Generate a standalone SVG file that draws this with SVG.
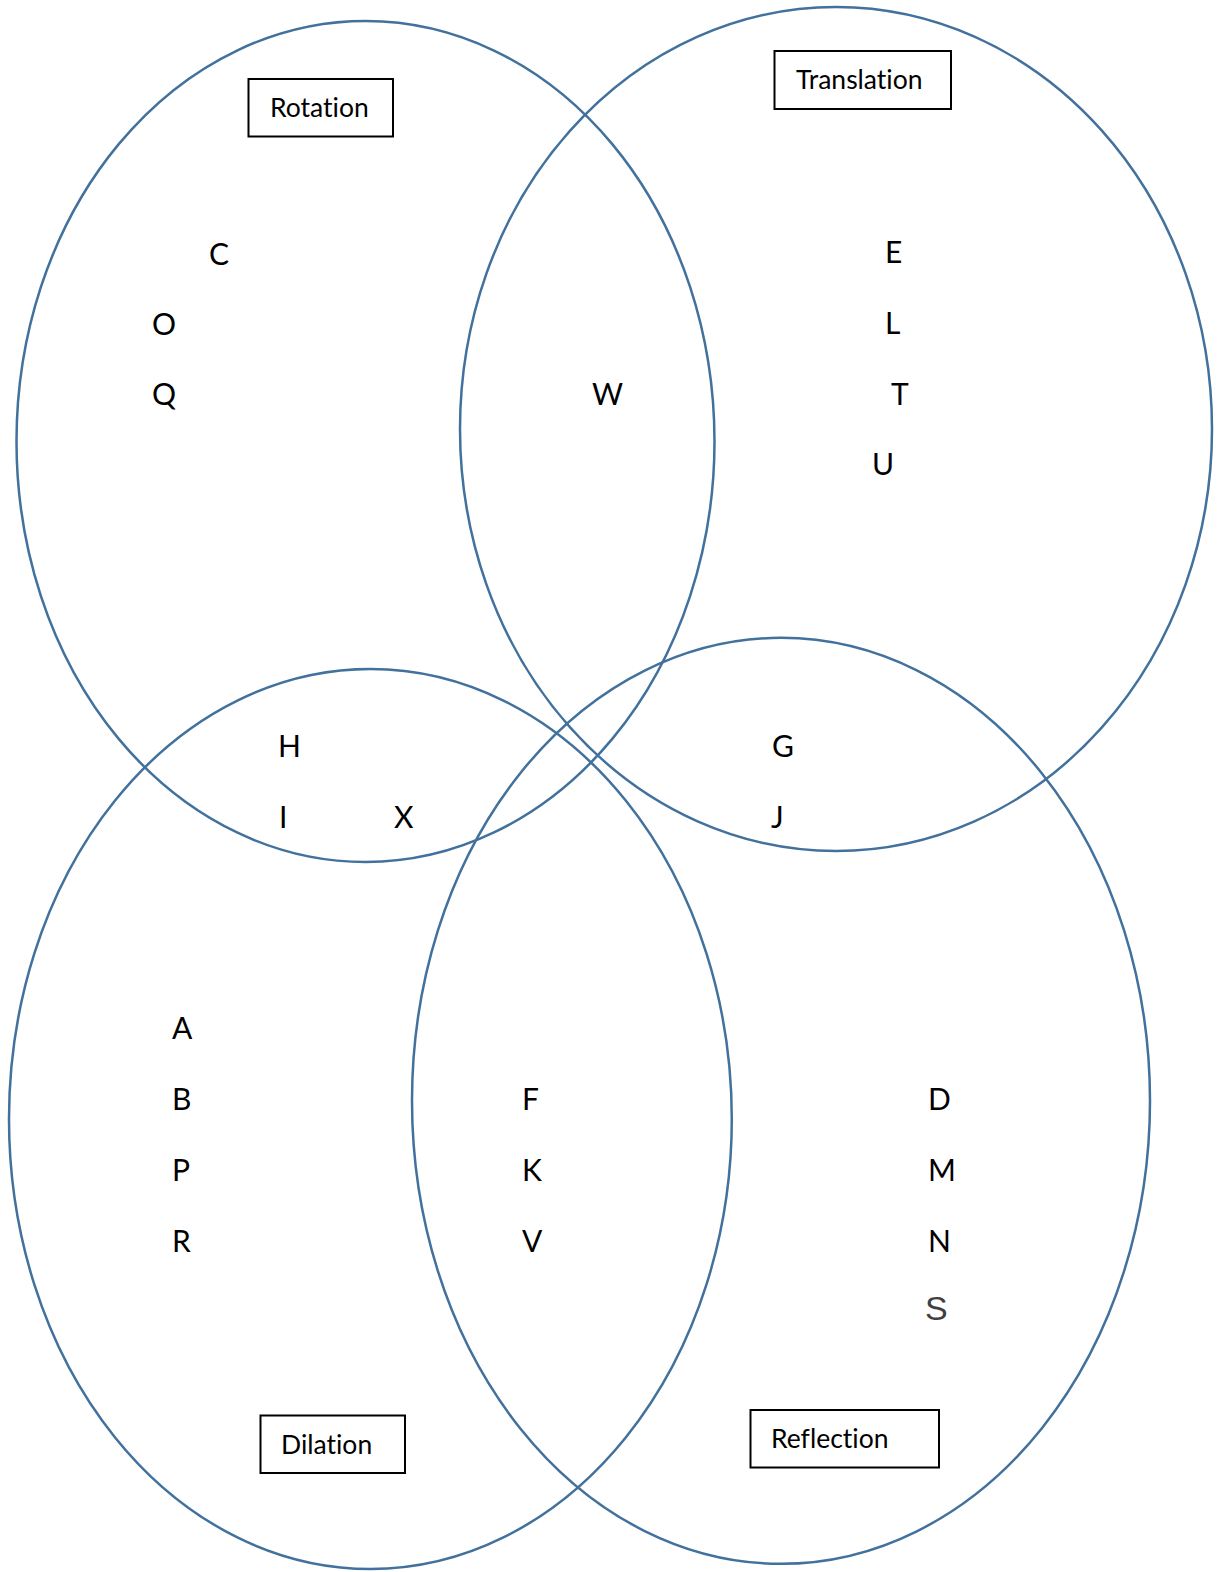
<svg xmlns="http://www.w3.org/2000/svg" width="1218" height="1572" viewBox="0 0 1218 1572">
<style>
.set{fill:none;stroke:#41719C;stroke-width:2.5}
.box{fill:#fff;stroke:#000;stroke-width:2}
.lbl{font-family:Lato,"Liberation Sans",sans-serif;font-size:26.5px;fill:#000;font-variant-ligatures:none;font-feature-settings:"liga" 0,"clig" 0,"dlig" 0}
.ltr{font-family:Lato,"Liberation Sans",sans-serif;font-size:30px;fill:#000}
.s{font-family:"Liberation Sans",Arial,sans-serif;font-size:34px;fill:#404040}
</style>
<rect width="1218" height="1572" fill="#fff"/>
<g id="connectors">
<ellipse id="rotation-set" class="set" cx="365.5" cy="441.5" rx="349" ry="420.5"/>
<ellipse id="translation-set" class="set" cx="836" cy="429" rx="376" ry="422"/>
<ellipse id="dilation-set" class="set" cx="370.4" cy="1119" rx="361.4" ry="450"/>
<ellipse id="reflection-set" class="set" cx="781" cy="1100.8" rx="369" ry="463"/>
</g>
<g id="rotation">
<rect class="box" x="248.5" y="79" width="144.5" height="57.5"/>
<text class="lbl" x="270" y="117">Rotation</text>
</g>
<g id="translation">
<rect class="box" x="774.5" y="51" width="176.5" height="58"/>
<text class="lbl" x="796" y="89">Translation</text>
</g>
<g id="dilation">
<rect class="box" x="260.5" y="1415.5" width="144.5" height="57.5"/>
<text class="lbl" x="281" y="1454">Dilation</text>
</g>
<g id="reflection">
<rect class="box" x="750.5" y="1410" width="188.5" height="57.5"/>
<text class="lbl" x="771" y="1448">Reflection</text>
</g>
<g id="letters">
<text class="ltr" x="209" y="265">C</text>
<text class="ltr" x="152" y="335">O</text>
<text class="ltr" x="152" y="405">Q</text>
<text class="ltr" x="592" y="405">W</text>
<text class="ltr" x="885" y="263">E</text>
<text class="ltr" x="885" y="334">L</text>
<text class="ltr" x="891" y="405">T</text>
<text class="ltr" x="872" y="475">U</text>
<text class="ltr" x="278" y="757">H</text>
<text class="ltr" x="279" y="828">I</text>
<text class="ltr" x="394" y="828">X</text>
<text class="ltr" x="772" y="757">G</text>
<text class="ltr" x="771" y="828">J</text>
<text class="ltr" x="172" y="1039">A</text>
<text class="ltr" x="172" y="1110">B</text>
<text class="ltr" x="172" y="1181">P</text>
<text class="ltr" x="172" y="1252">R</text>
<text class="ltr" x="522" y="1110">F</text>
<text class="ltr" x="522" y="1181">K</text>
<text class="ltr" x="522" y="1252">V</text>
<text class="ltr" x="928" y="1110">D</text>
<text class="ltr" x="928" y="1181">M</text>
<text class="ltr" x="928" y="1252">N</text>
<text class="s" x="925" y="1320">S</text>
</g>
</svg>
